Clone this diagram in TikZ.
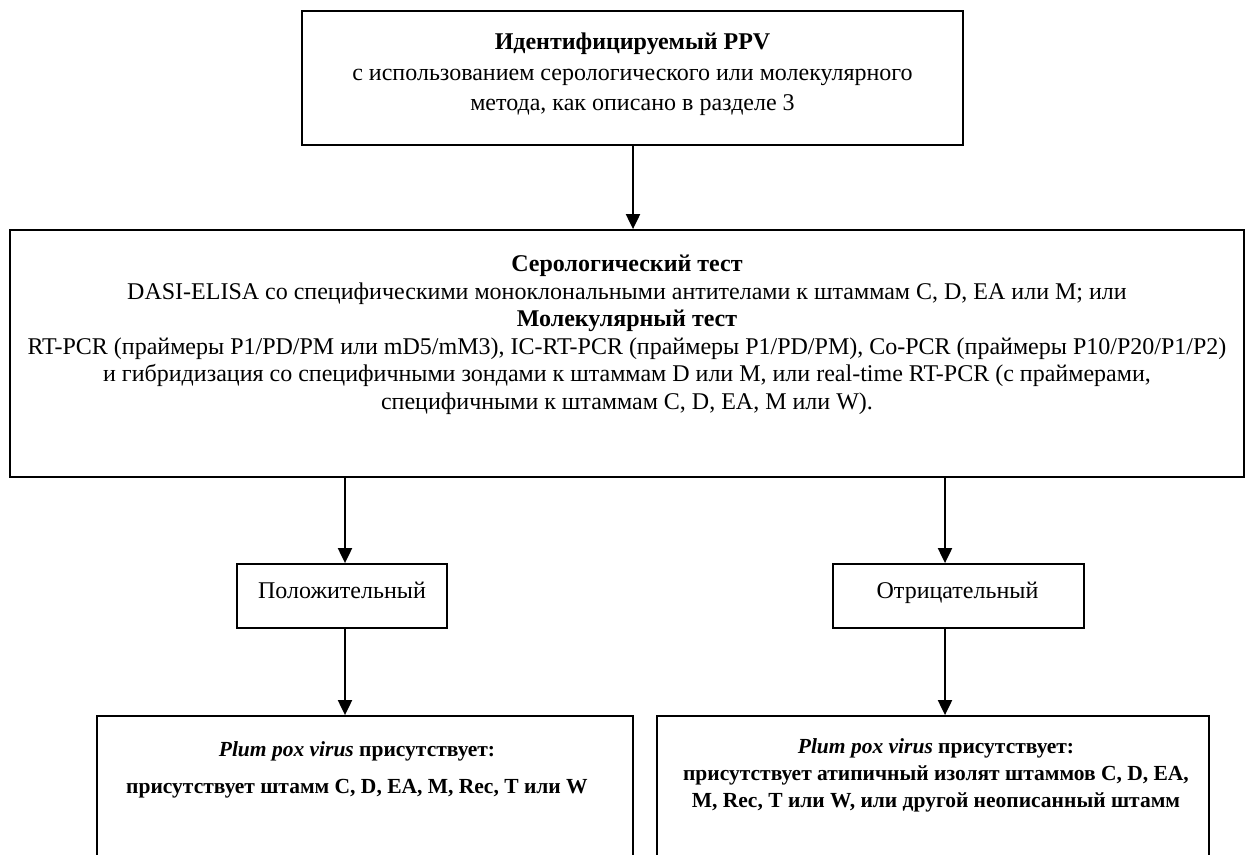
\documentclass[tikz,border=0pt]{standalone}
\usepackage{fontspec}
\setmainfont{Liberation Serif}
\usetikzlibrary{arrows.meta,calc}
\tikzset{
  box/.style={draw=black, line width=1.8pt, fill=none, inner sep=0pt},
  txt/.style={align=center, inner sep=0pt, text=black},
  arr/.style={line width=2pt, -{Triangle[length=15pt,width=14pt]}}
}
\begin{document}
\begin{tikzpicture}[x=1pt,y=-1pt]
\useasboundingbox (0,0) rectangle (1247,854);
\clip (0,0) rectangle (1247,854);
% boxes
\node[box, minimum width=661pt, minimum height=134pt] (top) at (632.5,78) {};
\node[box, minimum width=1234pt, minimum height=247pt] (mid) at (627,353.5) {};
\node[box, minimum width=210pt, minimum height=64pt] (pos) at (342,596) {};
\node[box, minimum width=251pt, minimum height=64pt] (neg) at (958.5,596) {};
\node[box, minimum width=536pt, minimum height=204pt] (bl) at (365,818) {};
\node[box, minimum width=552pt, minimum height=204pt] (br) at (933,818) {};
% texts
\node[txt, font=\fontsize{24}{30.5}\selectfont] (toptxt) at (632.5,74.5)
  {\textbf{Идентифицируемый PPV}\\с использованием серологического или молекулярного\\метода, как описано в разделе 3};
\node[txt, font=\fontsize{24}{27.5}\selectfont] (midtxt) at (627,335)
  {\textbf{Серологический тест}\\
   DASI-ELISA со специфическими моноклональными антителами к штаммам C, D, EA или M; или\\
   \textbf{Молекулярный тест}\\
   RT-PCR (праймеры P1/PD/PM или mD5/mM3), IC-RT-PCR (праймеры P1/PD/PM), Co-PCR (праймеры P10/P20/P1/P2)\\
   и гибридизация со специфичными зондами к штаммам D или M, или real-time RT-PCR (с праймерами,\\
   специфичными к штаммам C, D, EA, M или W).};
\node[txt, anchor=base, font=\fontsize{24}{28}\selectfont] (postxt) at (342,598) {Положительный};
\node[txt, anchor=base, font=\fontsize{24}{28}\selectfont] (negtxt) at (957.5,598) {Отрицательный};
\node[txt, font=\bfseries\fontsize{21.5}{37}\selectfont] (bltxt) at (357,769.5)
  {\textit{Plum pox virus} присутствует:\\присутствует штамм C, D, EA, M, Rec, T или W};
\node[txt, font=\bfseries\fontsize{21.5}{27}\selectfont] (brtxt) at (936,775)
  {\textit{Plum pox virus} присутствует:\\присутствует атипичный изолят штаммов C, D, EA,\\M, Rec, T или W, или другой неописанный штамм};
% connectors
\coordinate (xc) at (633,0);
\coordinate (xl) at (345,0);
\coordinate (xr) at (945,0);
\draw[arr] (xc |- top.south) -- (xc |- mid.north);
\draw[arr] (xl |- mid.south) -- (xl |- pos.north);
\draw[arr] (xr |- mid.south) -- (xr |- neg.north);
\draw[arr] (xl |- pos.south) -- (xl |- bl.north);
\draw[arr] (xr |- neg.south) -- (xr |- br.north);
\end{tikzpicture}
\end{document}
